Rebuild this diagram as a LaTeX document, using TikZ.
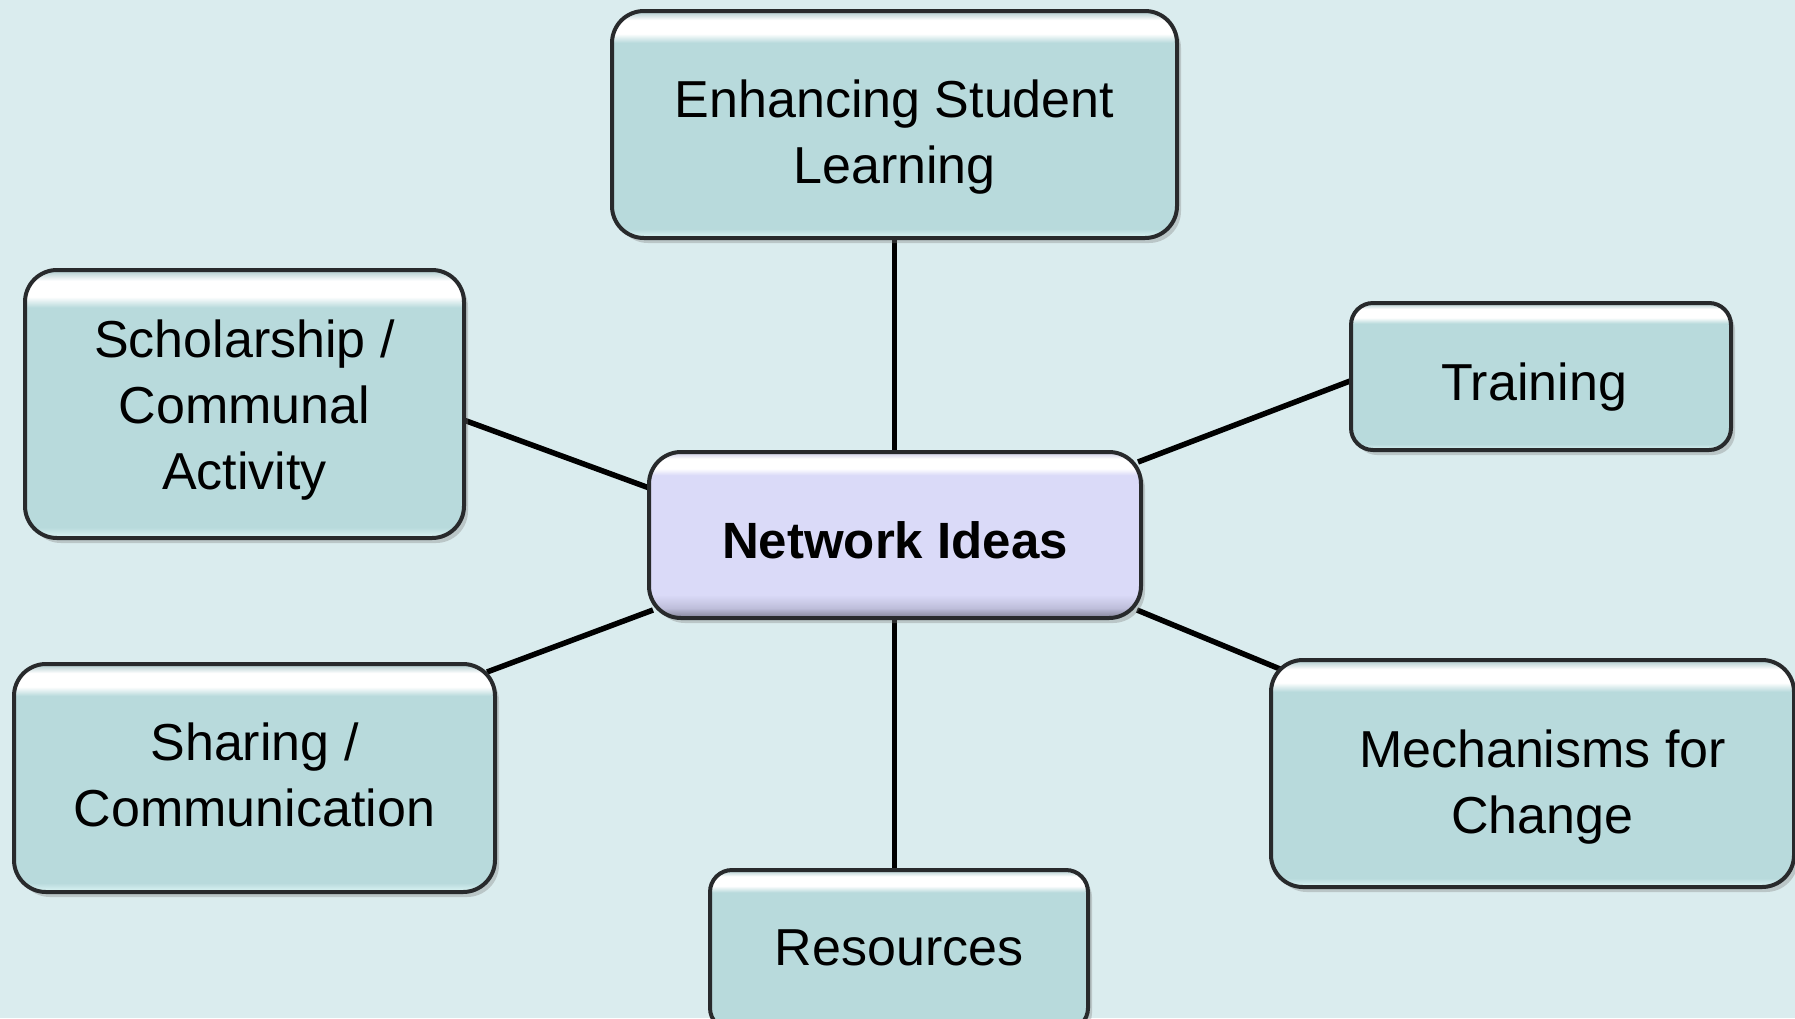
\documentclass[tikz,border=0pt]{standalone}
\usepackage{fontspec}
\setmainfont{Liberation Sans}
\usetikzlibrary{shadows,calc}
\definecolor{bgc}{RGB}{218,236,238}
\definecolor{cy}{RGB}{184,218,220}
\definecolor{cylt}{RGB}{222,246,246}
\definecolor{cytop}{RGB}{170,200,202}
\definecolor{pu}{RGB}{218,218,248}
\definecolor{pumid}{RGB}{190,190,218}
\definecolor{pudk}{RGB}{130,130,150}
\definecolor{putop}{RGB}{200,200,225}
\definecolor{bord}{RGB}{40,42,44}
\pgfdeclareverticalshading{cybevel}{100bp}{color(0bp)=(cylt); color(25bp)=(cylt); color(27bp)=(cy); color(68bp)=(cy); color(70bp)=(white); color(73bp)=(white); color(75bp)=(cytop); color(100bp)=(cytop)}
\pgfdeclareverticalshading{pubevel}{100bp}{color(0bp)=(pudk); color(25bp)=(pudk); color(28bp)=(pumid); color(32bp)=(pu); color(68bp)=(pu); color(70bp)=(white); color(73bp)=(white); color(75bp)=(putop); color(100bp)=(putop)}
\pgfdeclarelayer{bg}
\pgfdeclarelayer{edges}
\pgfsetlayers{bg,edges,main}
\tikzset{
  box/.style={draw=bord, line width=4pt, rounded corners=32pt, shading=cybevel,
    drop shadow={shadow xshift=4pt, shadow yshift=-5pt, opacity=0.35},
    inner sep=0pt},
  hub/.style={box, shading=pubevel},
  txt/.style={align=center, inner sep=0pt, font=\fontsize{52}{66}\selectfont},
  hubtxt/.style={txt, font=\fontsize{51}{60}\selectfont\bfseries},
  link/.style={line width=5.5pt, draw=black}
}
\begin{document}
\begin{tikzpicture}[x=1pt,y=-1pt]
\begin{pgfonlayer}{bg}
\fill[bgc] (0,0) rectangle (1795,1018);
\end{pgfonlayer}
\useasboundingbox (0,0) rectangle (1795,1018);
\clip (0,0) rectangle (1795,1018);
\node[box, minimum width=565pt, minimum height=227pt] (top) at (894.5,124.5) {};
\node[txt] (toptxt) at ($(top.center)+(0,13)$) {Enhancing Student\\Learning};
\node[box, minimum width=439pt, minimum height=268pt] (sch) at (244.5,404) {};
\node[txt] (schtxt) at ($(sch.center)+(0,6)$) {Scholarship /\\Communal\\Activity};
\node[box, minimum width=481pt, minimum height=228pt] (sh) at (254.5,778) {};
\node[txt] (shtxt) at ($(sh.center)+(0,-3)$) {Sharing /\\Communication};
\node[hub, minimum width=492pt, minimum height=166pt] (ce) at (895,535) {};
\node[hubtxt] (cetxt) at ($(ce.center)+(0,5)$) {Network Ideas};
\node[box, rounded corners=22pt, minimum width=380pt, minimum height=147pt] (tr) at (1541,376.5) {};
\node[txt] (trtxt) at ($(tr.center)+(-7,11)$) {Training};
\node[box, minimum width=523pt, minimum height=227pt] (me) at (1532.5,773.5) {};
\node[txt] (metxt) at ($(me.center)+(10,14)$) {Mechanisms for\\Change};
\node[box, rounded corners=22pt, minimum width=378pt, minimum height=160pt] (re) at (899,950) {};
\node[txt] (retxt) at ($(re.center)+(0,-2)$) {Resources};
\begin{pgfonlayer}{edges}
\draw[link] (top.south) -- (top.south |- ce.north);
\draw[link] (ce.south -| top.south) -- (top.south |- re.north);
\draw[link] ($(sch.east)+(-5,15)$) -- ($(ce.west)+(5,-46)$);
\draw[link] ($(sh.north east)+(-10,10)$) -- ($(ce.south west)+(6,-10)$);
\draw[link] ($(ce.north east)+(-5,12)$) -- ($(tr.west)+(5,3)$);
\draw[link] ($(ce.south east)+(-6,-10)$) -- ($(me.north west)+(11,11)$);
\end{pgfonlayer}
\end{tikzpicture}
\end{document}
